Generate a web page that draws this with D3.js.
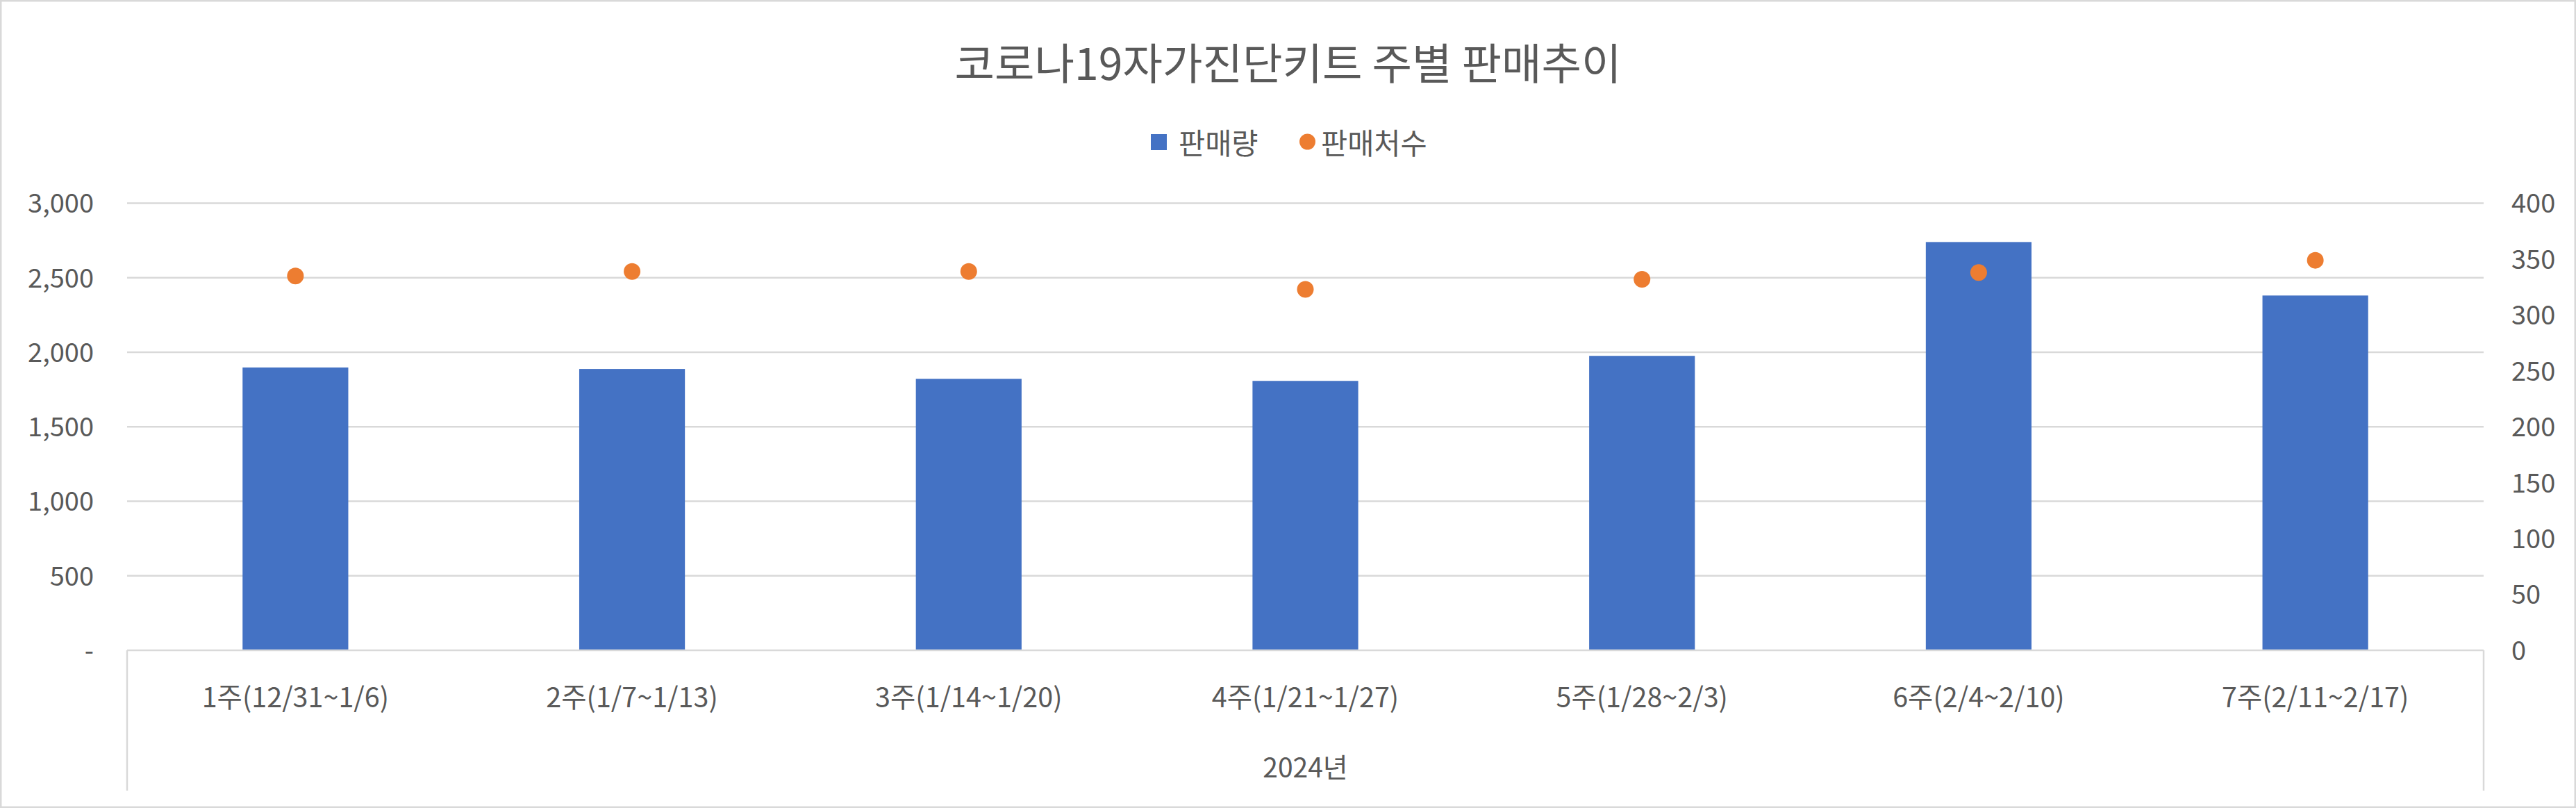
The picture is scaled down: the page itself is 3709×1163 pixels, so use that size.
<!DOCTYPE html>
<html>
<head>
<meta charset="utf-8">
<script src="https://cdn.jsdelivr.net/npm/d3@7"></script>
<style>
  html, body { margin: 0; padding: 0; background: #ffffff; }
  svg { display: block; }
  text { font-family: "Noto Sans CJK KR", "Noto Sans", sans-serif; fill: #595959; }
</style>
</head>
<body>
<script>
// ---- data ----
const categories = ["1주(12/31~1/6)", "2주(1/7~1/13)", "3주(1/14~1/20)", "4주(1/21~1/27)", "5주(1/28~2/3)", "6주(2/4~2/10)", "7주(2/11~2/17)"];
const salesVolume = [1898, 1888, 1822, 1808, 1976, 2740, 2381];   // 판매량 (left axis)
const storeCount = [335, 339, 339, 323, 332, 338, 349];           // 판매처수 (right axis)
const leftTicks = [0, 500, 1000, 1500, 2000, 2500, 3000];
const rightTicks = [0, 50, 100, 150, 200, 250, 300, 350, 400];
const groupLabel = "2024년";
const titleText = "코로나19자가진단키트 주별 판매추이";
const seriesNames = ["판매량", "판매처수"];

// ---- layout ----
const W = 3709, H = 1163;
const plot = { left: 183, right: 3576, top: 292.6, bottom: 936 };
const colors = { bar: "#4472C4", dot: "#ED7D31", grid: "#D9D9D9", text: "#595959" };

const svg = d3.select("body").append("svg").attr("width", W).attr("height", H);

// chart border
svg.append("rect").attr("x", 1.25).attr("y", 1.25).attr("width", W - 2.5).attr("height", H - 2.5)
  .attr("fill", "#fff").attr("stroke", colors.grid).attr("stroke-width", 2.5);

const x = d3.scaleBand().domain(categories).range([plot.left, plot.right])
  .paddingInner(0.686).paddingOuter(0.343);
const yL = d3.scaleLinear().domain([0, 3000]).range([plot.bottom, plot.top]);
const yR = d3.scaleLinear().domain([0, 400]).range([plot.bottom, plot.top]);

// gridlines
svg.append("g").selectAll("line").data(leftTicks.filter(d => d > 0)).join("line")
  .attr("x1", plot.left).attr("x2", plot.right)
  .attr("y1", d => yL(d)).attr("y2", d => yL(d))
  .attr("stroke", colors.grid).attr("stroke-width", 2.5);

// left axis
const leftAxis = d3.axisLeft(yL).tickValues(leftTicks).tickSize(0).tickPadding(0)
  .tickFormat(d => d === 0 ? "-" : d3.format(",")(d));
const gL = svg.append("g").attr("transform", `translate(${plot.left - 48},0)`).call(leftAxis);
gL.select(".domain").remove();
gL.selectAll("text").attr("font-size", 38).attr("fill", colors.text)
  .attr("font-family", "'Noto Sans CJK KR', sans-serif").attr("dy", "0.35em");

// right axis
const rightAxis = d3.axisRight(yR).tickValues(rightTicks).tickSize(0).tickPadding(0);
const gR = svg.append("g").attr("transform", `translate(${plot.right + 40},0)`).call(rightAxis);
gR.select(".domain").remove();
gR.selectAll("text").attr("font-size", 38).attr("fill", colors.text)
  .attr("font-family", "'Noto Sans CJK KR', sans-serif").attr("dy", "0.35em");

// bars
svg.append("g").selectAll("rect").data(salesVolume).join("rect")
  .attr("x", (d, i) => x(categories[i]))
  .attr("width", x.bandwidth())
  .attr("y", d => yL(d))
  .attr("height", d => yL(0) - yL(d))
  .attr("fill", colors.bar);

// category axis lines
const axisLines = svg.append("g").attr("stroke", colors.grid).attr("stroke-width", 2.5);
axisLines.append("line").attr("x1", plot.left).attr("x2", plot.right).attr("y1", plot.bottom).attr("y2", plot.bottom);
axisLines.append("line").attr("x1", plot.left).attr("x2", plot.left).attr("y1", plot.bottom).attr("y2", 1138);
axisLines.append("line").attr("x1", plot.right).attr("x2", plot.right).attr("y1", plot.bottom).attr("y2", 1138);

// dots
svg.append("g").selectAll("circle").data(storeCount).join("circle")
  .attr("cx", (d, i) => x(categories[i]) + x.bandwidth() / 2)
  .attr("cy", d => yR(d))
  .attr("r", 12)
  .attr("fill", colors.dot);

// category labels
const bottomAxis = d3.axisBottom(x).tickSize(0).tickPadding(0);
const gB = svg.append("g").attr("transform", `translate(0,${plot.bottom})`).call(bottomAxis);
gB.select(".domain").remove();
gB.selectAll("text").attr("font-size", 39.5).attr("fill", colors.text)
  .attr("font-family", "'Noto Sans CJK KR', sans-serif")
  .attr("dy", null).attr("y", 64).attr("dominant-baseline", "central");

svg.append("text").attr("x", (plot.left + plot.right) / 2).attr("y", 1102)
  .attr("text-anchor", "middle").attr("dominant-baseline", "central")
  .attr("font-size", 39).text(groupLabel);

// title
svg.append("text").attr("x", W / 2).attr("y", 87)
  .attr("text-anchor", "middle").attr("dominant-baseline", "central")
  .attr("font-size", 62.5).text(titleText);

// legend
const lg = svg.append("g");
lg.append("rect").attr("x", 1657).attr("y", 193).attr("width", 23).attr("height", 23).attr("fill", colors.bar);
lg.append("text").attr("x", 1697).attr("y", 204).attr("dominant-baseline", "central")
  .attr("font-size", 41.5).text(seriesNames[0]);
lg.append("circle").attr("cx", 1882.5).attr("cy", 204).attr("r", 11.5).attr("fill", colors.dot);
lg.append("text").attr("x", 1902).attr("y", 204).attr("dominant-baseline", "central")
  .attr("font-size", 41.5).text(seriesNames[1]);
</script>
</body>
</html>
